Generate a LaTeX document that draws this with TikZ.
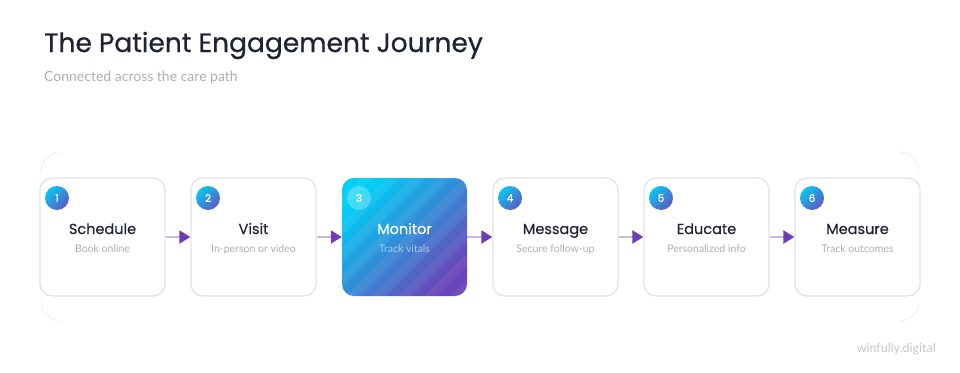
\documentclass[tikz,border=0pt]{standalone}
\usepackage{fontspec}
\setmainfont{Poppins}
\newfontfamily\latofont{Lato}
\newfontfamily\titlefont{Poppins}[FakeBold=0.6]
\newfontfamily\stepfont{Poppins}[FakeBold=0.35]
\usetikzlibrary{arrows.meta}
\definecolor{ink}{HTML}{1F2235}
\definecolor{subtext}{HTML}{ADAFB8}
\definecolor{edgegray}{HTML}{E3E3E9}
\definecolor{cyanA}{HTML}{00CFF5}
\definecolor{blueM}{HTML}{3A8FDA}
\definecolor{purpB}{HTML}{6A45B9}
\definecolor{arrowline}{HTML}{CDB8E6}
\definecolor{arrowhd}{HTML}{6C3CB9}
\definecolor{wmark}{HTML}{C4C6CC}
\definecolor{framec}{HTML}{E8E8EE}
\tikzset{
  stepbox/.style={draw=edgegray, line width=1.3pt, fill=white, rounded corners=12pt,
    minimum width=125pt, minimum height=118pt, inner sep=0pt},
  activebox/.style={rounded corners=12pt, minimum width=125pt, minimum height=118pt, inner sep=0pt,
    top color=cyanA, middle color=blueM, bottom color=purpB, shading angle=45},
  badge/.style={circle, minimum size=24pt, inner sep=0pt, text=white,
    top color=cyanA!85!blueM, bottom color=purpB!70!blueM, shading angle=45,
    font=\stepfont\fontsize{10.5}{12}\selectfont},
  activebadge/.style={circle, minimum size=24pt, inner sep=0pt, text=white,
    fill=white, fill opacity=0.25, text opacity=1, font=\stepfont\fontsize{10.5}{12}\selectfont},
  steptitle/.style={inner sep=0pt, anchor=base, text=ink, font=\stepfont\fontsize{14.5}{17}\selectfont},
  stepsub/.style={inner sep=0pt, anchor=base, text=subtext, font=\latofont\fontsize{10.5}{12}\selectfont},
  conn/.style={draw=arrowline, line width=2pt, -{Triangle[length=11pt,width=13pt,color=arrowhd]}},
  framecorner/.style={draw=framec, line width=0.9pt, rounded corners=20pt, dash pattern=on 2pt off 1.5pt}
}
\begin{document}
\begin{tikzpicture}[x=1pt,y=-1pt]
\useasboundingbox (0,0) rectangle (960,372);
\fill[white] (0,0) rectangle (960,372);
% title
\node[inner sep=0pt, anchor=base west, text=ink, font=\titlefont\fontsize{26.5}{30}\selectfont] (title) at (44,52) {The Patient Engagement Journey};
\node[inner sep=0pt, anchor=base west, text=subtext, font=\latofont\fontsize{14}{16}\selectfont] (subtitle) at (44,81) {Connected across the care path};
% outer frame corners
\draw[framecorner] (41,172) -- (41,152) -- (61,152);
\draw[framecorner] (899,152) -- (919,152) -- (919,172);
\draw[framecorner] (41,301) -- (41,321) -- (61,321);
\draw[framecorner] (899,321) -- (919,321) -- (919,301);
% boxes
\foreach \i [evaluate=\i as \x using 102.5+151*(\i-1)] in {1,...,6}{
  \ifnum\i=3 \def\bs{activebox}\else\def\bs{stepbox}\fi
  \node[\bs] (box\i) at (\x,237) {};
}
% stripes on active box
\begin{scope}
\clip[rounded corners=12pt] (box3.north west) rectangle (box3.south east);
\foreach \k in {-156,-130,...,130}{
  \fill[white, opacity=0.06] (342+\k,300) -- (355+\k,300) -- (485+\k,170) -- (472+\k,170) -- cycle;
}
\end{scope}
% texts and badges
\foreach \i/\t/\s [evaluate=\i as \x using 102.5+151*(\i-1), evaluate=\i as \bx using 57+151*(\i-1)] in
  {1/Schedule/Book online, 2/Visit/In-person or video, 3/Monitor/Track vitals,
   4/Message/Secure follow-up, 5/Educate/Personalized info, 6/Measure/Track outcomes}{
  \ifnum\i=3
    \node[activebadge] (badge\i) at (\bx,198) {\i};
    \node[steptitle, text=white] (title\i) at (\x,234) {\t};
    \node[stepsub, text=white, text opacity=0.55] (sub\i) at (\x,252) {\s};
  \else
    \node[badge] (badge\i) at (\bx,198) {\i};
    \node[steptitle] (title\i) at (\x,234) {\t};
    \node[stepsub] (sub\i) at (\x,252) {\s};
  \fi
}
% connectors
\foreach \i [evaluate=\i as \j using int(\i+1)] in {1,...,5}{
  \draw[conn] (box\i.east) -- (box\j.west);
}
% watermark
\node[inner sep=0pt, anchor=base east, text=wmark, font=\latofont\fontsize{12.5}{14}\selectfont] (wm) at (936,352) {winfully.digital};
\end{tikzpicture}
\end{document}
